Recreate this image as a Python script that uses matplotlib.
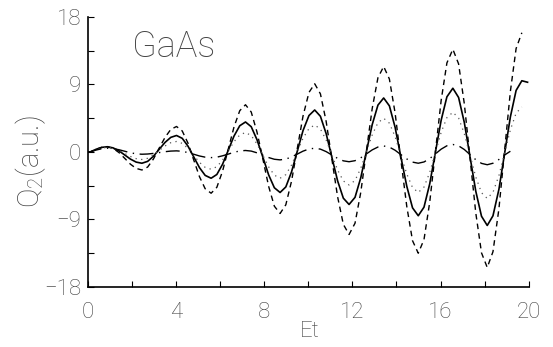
import matplotlib
matplotlib.use("Agg")
import matplotlib.pyplot as plt
from matplotlib.ticker import MultipleLocator

# sample positions along Et
t = [0.00, 0.10, 0.36, 0.62, 0.88, 1.14, 1.41, 1.67, 1.93, 2.19, 2.45,
     2.71, 2.97, 3.23, 3.50, 3.76, 4.02, 4.28, 4.54, 4.80, 5.06,
     5.32, 5.59, 5.85, 6.11, 6.37, 6.63, 6.89, 7.15, 7.41, 7.67,
     7.94, 8.20, 8.46, 8.72, 8.98, 9.24, 9.50, 9.76, 10.03, 10.29,
     10.55, 10.81, 11.07, 11.33, 11.59, 11.85, 12.12, 12.38, 12.64, 12.90,
     13.16, 13.42, 13.68, 13.94, 14.20, 14.47, 14.73, 14.99, 15.25, 15.51,
     15.77, 16.03, 16.29, 16.56, 16.82, 17.08, 17.34, 17.60, 17.86, 18.12,
     18.38, 18.65, 18.91, 19.17, 19.43, 19.69, 19.95]

q_solid = [0, 0, 0.35, 0.61, 0.7, 0.55, 0.15, -0.4, -0.95, -1.35, -1.5,
           -1.25, -0.58, 0.35, 1.28, 1.95, 2.2, 1.82, 0.78, -0.65, -2.08,
           -3.12, -3.5, -3.0, -1.63, 0.25, 2.13, 3.5, 4.0, 3.37, 1.65,
           -0.7, -3.05, -4.77, -5.4, -4.66, -2.65, 0.1, 2.85, 4.86, 5.6,
           4.76, 2.45, -0.7, -3.85, -6.16, -7.0, -6.05, -3.45, 0.1, 3.65,
           6.25, 7.2, 6.15, 3.28, -0.65, -4.58, -7.45, -8.5, -7.36, -4.25,
           0, 4.25, 7.36, 8.5, 7.27, 3.93, -0.65, -5.23, -8.57, -9.8,
           -8.51, -4.98, -0.15, 4.68, 8.21, 9.5, 9.3]

q_dashed = [0, 0, 0.35, 0.61, 0.7, 0.49, -0.08, -0.85, -1.63, -2.19, -2.4,
            -2.01, -0.95, 0.5, 1.95, 3.01, 3.4, 2.8, 1.18, -1.05, -3.28,
            -4.9, -5.5, -4.71, -2.55, 0.4, 3.35, 5.51, 6.3, 5.33, 2.68,
            -0.95, -4.58, -7.23, -8.2, -7.04, -3.88, 0.45, 4.78, 7.94, 9.1,
            7.75, 4.08, -0.95, -5.98, -9.65, -11.0, -9.5, -5.4, 0.2, 5.8,
            9.9, 11.4, 9.73, 5.18, -1.05, -7.28, -11.83, -13.5, -11.68, -6.7,
            0.1, 6.9, 11.88, 13.7, 11.75, 6.43, -0.85, -8.13, -13.45, -15.4,
            -13.3, -7.58, 0.25, 8.08, 13.8, 15.9]

q_dotted = [0, 0, 0.3, 0.52, 0.6, 0.49, 0.2, -0.2, -0.6, -0.89, -1.0,
            -0.84, -0.4, 0.2, 0.8, 1.24, 1.4, 1.15, 0.48, -0.45, -1.38,
            -2.05, -2.3, -1.97, -1.08, 0.15, 1.38, 2.27, 2.6, 2.19, 1.08,
            -0.45, -1.98, -3.09, -3.5, -3.02, -1.73, 0.05, 1.83, 3.12, 3.6,
            3.06, 1.6, -0.4, -2.4, -3.86, -4.4, -3.8, -2.18, 0.05, 2.28,
            3.9, 4.5, 3.84, 2.03, -0.45, -2.93, -4.74, -5.4, -4.68, -2.73,
            -0.05, 2.63, 4.58, 5.3, 4.53, 2.43, -0.45, -3.33, -5.43, -6.2,
            -5.38, -3.15, -0.1, 2.95, 5.18, 6.0]

q_dashdot = [0, 0, 0.25, 0.43, 0.5, 0.45, 0.3, 0.1, -0.1, -0.25, -0.3,
             -0.27, -0.19, -0.08, 0.04, 0.12, 0.15, 0.09, -0.08, -0.3, -0.53,
             -0.69, -0.75, -0.69, -0.51, -0.28, -0.04, 0.14, 0.2, 0.12, -0.11,
             -0.43, -0.74, -0.97, -1.05, -0.95, -0.66, -0.28, 0.11, 0.4, 0.5,
             0.38, 0.05, -0.4, -0.85, -1.18, -1.3, -1.16, -0.78, -0.25, 0.28,
             0.66, 0.8, 0.65, 0.23, -0.35, -0.93, -1.35, -1.5, -1.33, -0.88,
             -0.25, 0.38, 0.83, 1.0, 0.82, 0.33, -0.35, -1.03, -1.52, -1.7,
             -1.5, -1.0, -0.4, 0.1]

x_ticks = [0, 4, 8, 12, 16, 20]
y_ticks = [-18, -9, 0, 9, 18]
y_tick_labels = ["\u221218", "\u22129", "0", "9", "18"]

plt.rcParams["font.family"] = ["Roboto", "DejaVu Sans"]
text_color = "#444444"

fig = plt.figure(figsize=(5.53, 3.47), dpi=100)
ax = fig.add_axes([0.159, 0.173, 0.797, 0.778])

ax.plot(t[:len(q_solid)], q_solid, color="black", lw=1.2)
ax.plot(t[:len(q_dashed)], q_dashed, color="black", lw=1.0, linestyle=(0, (4, 3)))
ax.plot(t[:len(q_dotted)], q_dotted, color="#555555", lw=0.9, linestyle=(0, (1, 3.5)))
ax.plot(t[:len(q_dashdot)], q_dashdot, color="black", lw=1.0,
        linestyle=(0, (10, 4, 1, 4)))

ax.set_xlim(0, 20)
ax.set_ylim(-18, 18)
ax.set_xticks(x_ticks)
ax.xaxis.set_minor_locator(MultipleLocator(2))
ax.set_yticks(y_ticks)
ax.set_yticklabels(y_tick_labels)
ax.yaxis.set_minor_locator(MultipleLocator(4.5))

for side in ("top", "right"):
    ax.spines[side].set_visible(False)
for side in ("left", "bottom"):
    ax.spines[side].set_linewidth(1.2)

ax.tick_params(which="both", direction="in", length=4, width=0.8,
               labelsize=16, labelcolor=text_color)
ax.tick_params(axis="x", which="both", pad=11)
ax.tick_params(axis="y", which="both", pad=5)
for lab in ax.get_xticklabels() + ax.get_yticklabels():
    lab.set_fontweight("light")

ax.set_xlabel("Et", fontsize=16, color=text_color, fontweight="light")
ax.xaxis.set_label_coords(0.503, -0.125)
ax.set_ylabel(r"$\mathregular{Q_2}$(a.u.)", fontsize=21, color=text_color,
              fontweight="light")
ax.yaxis.set_label_coords(-0.09, 0.463)

ax.text(0.10, 0.89, "GaAs", transform=ax.transAxes, fontsize=26,
        color=text_color, fontweight="light", ha="left", va="center")

fig.savefig("out.png", dpi=100)
